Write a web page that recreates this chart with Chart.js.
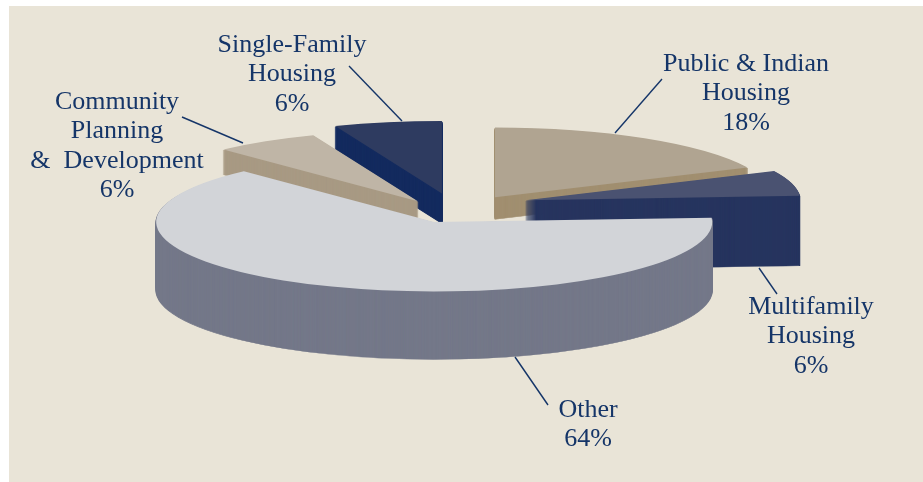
<!DOCTYPE html>
<html>
<head>
<meta charset="utf-8">
<title>Pie</title>
<script src="https://cdn.jsdelivr.net/npm/chart.js@4/dist/chart.umd.min.js"></script>
<style>
html,body{margin:0;padding:0;background:#fff;}
#panel{position:absolute;left:9px;top:6px;right:0;bottom:0;background:#e9e4d7;}
#wrap{position:absolute;left:0;top:0;width:923px;height:482px;}
#myPie{display:block;}
</style>
</head>
<body>
<div id="panel"></div>
<div id="wrap"><canvas id="myPie" width="923" height="482"></canvas></div>
<script>
// slices run clockwise from 12 o'clock
var categories=['Public & Indian Housing','Multifamily Housing','Other','Community Planning & Development','Single-Family Housing'];
var shares=[18,6,64,6,6];
var labelLines=[['Public & Indian','Housing'],['Multifamily','Housing'],['Other'],['Community','Planning','&  Development'],['Single-Family','Housing']];

// look of the slices
var topColors=['#b0a491','#4a5271','#d2d4d8','#bfb5a6','#2e3b60'];
var sideColors=['#a18f70','#27355f','#747889','#a89a84','#142b5f'];
var explode=[84,78,43,60,43];
var depth=[22,70,68,25,30];
var sizeFix=[1.004,0.988,1,1.022,1.043];
var liftFix=[3,-7,0,2,-8];
var drawOrder=[0,4,3,1,2];
var squash=0.25;

// label placing: centre x, first baseline y, leader line x1,y1,x2,y2
var labelPos=[[746,71],[811,314],[588,417],[117,109],[292,52]];
var leaders=[[662,79,615,133],[777,294,759,268],[548,405,515,357],[182,117,243,143],[349,66,402,121]];
var textColor='#153568';

function placeSlice(ctx,el,i,down){
    var mid=(el.startAngle+el.endAngle)/2;
    ctx.translate(el.x+Math.cos(mid)*explode[i],el.y+Math.sin(mid)*explode[i]*squash+liftFix[i]+down);
    ctx.scale(sizeFix[i],sizeFix[i]*squash);
    ctx.translate(-el.x,-el.y);
}

var pie3d={
    id:'pie3d',
    beforeDatasetDraw:function(chart,args){
        var ctx=chart.ctx;
        drawOrder.forEach(function(i){
            var el=args.meta.data[i];
            var side=Object.create(el);
            // a thin border keeps the narrow tips from fading out when stacked
            side.options=Object.assign({},el.options,{backgroundColor:sideColors[i],borderColor:sideColors[i],borderWidth:1.5});
            for(var d=depth[i];d>=1;d--){
                ctx.save();
                placeSlice(ctx,el,i,d);
                side.draw(ctx);
                ctx.restore();
            }
            ctx.save();
            placeSlice(ctx,el,i,0);
            el.draw(ctx);
            ctx.restore();
        });
        return false;
    },
    afterDraw:function(chart){
        var ctx=chart.ctx;
        ctx.save();
        ctx.strokeStyle=textColor;
        ctx.lineWidth=1.4;
        leaders.forEach(function(l){
            ctx.beginPath();
            ctx.moveTo(l[0],l[1]);
            ctx.lineTo(l[2],l[3]);
            ctx.stroke();
        });
        ctx.fillStyle=textColor;
        ctx.font='26px "Liberation Serif"';
        ctx.textAlign='center';
        ctx.textBaseline='alphabetic';
        labelLines.forEach(function(lines,i){
            var all=lines.concat([shares[i]+'%']);
            all.forEach(function(t,n){
                ctx.fillText(t,labelPos[i][0],labelPos[i][1]+n*29.3);
            });
        });
        ctx.restore();
    }
};

new Chart(document.getElementById('myPie').getContext('2d'),{
    type:'pie',
    data:{
        labels:categories,
        datasets:[{
            data:shares,
            backgroundColor:topColors,
            borderWidth:0
        }]
    },
    options:{
        responsive:false,
        animation:false,
        radius:278,
        layout:{padding:{right:23,bottom:58}},
        plugins:{legend:{display:false},tooltip:{enabled:false}}
    },
    plugins:[pie3d]
});
</script>
</body>
</html>
